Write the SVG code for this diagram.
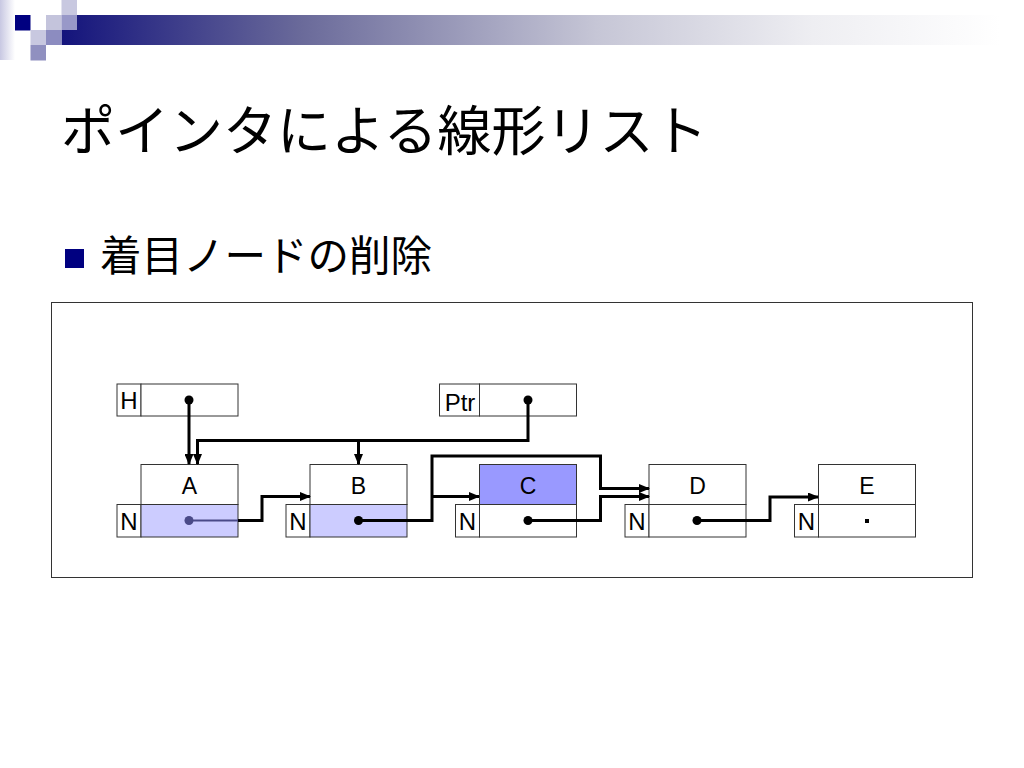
<svg xmlns="http://www.w3.org/2000/svg" width="1024" height="768" viewBox="0 0 1024 768">
<defs>
<linearGradient id="bar" gradientUnits="userSpaceOnUse" x1="62" y1="0" x2="1000" y2="0">
<stop offset="0" stop-color="#14147c"/>
<stop offset="0.255" stop-color="#6a6a9a"/>
<stop offset="0.57" stop-color="#c6c6d6"/>
<stop offset="0.8" stop-color="#eeeef2"/>
<stop offset="1" stop-color="#ffffff"/>
</linearGradient>
<linearGradient id="strip" x1="0" y1="0" x2="1" y2="0">
<stop offset="0" stop-color="#c8c8e2"/>
<stop offset="1" stop-color="#ffffff"/>
</linearGradient>
<marker id="arr" markerUnits="userSpaceOnUse" markerWidth="11" markerHeight="9" refX="10" refY="4.5" orient="auto">
<path d="M0,0 L11,4.5 L0,9 z" fill="#000"/>
</marker>
<style>
.cell{fill:#fff;stroke:#333;stroke-width:1}
.sel{fill:#ccccff;stroke:#333;stroke-width:1}
.cur{fill:#9999ff;stroke:#333;stroke-width:1}
.lbl{font-family:"Liberation Sans",Arial,sans-serif;font-size:24px;fill:#000;text-anchor:middle}
.val{font-family:"Liberation Sans",Arial,sans-serif;font-size:23px;fill:#000;text-anchor:middle}
.ln{fill:none;stroke:#000;stroke-width:3}
.jp{font-family:"Noto Sans CJK JP","Noto Sans CJK SC",sans-serif;fill:#000}
</style>
</defs>
<rect width="1024" height="768" fill="#fff"/>
<g id="decoration">
<rect x="0" y="0" width="15" height="60" fill="url(#strip)"/>
<rect x="77" y="15" width="947" height="15" fill="url(#bar)"/>
<rect x="61.5" y="30" width="962.5" height="15" fill="url(#bar)"/>
<rect x="15" y="15" width="15.5" height="15.5" fill="#000080"/>
<rect x="61.5" y="0" width="15.5" height="15" fill="#c8c8e0"/>
<rect x="46" y="15" width="15.5" height="15" fill="#c4c4dc"/>
<rect x="61.5" y="15" width="15.5" height="15" fill="#9898c8"/>
<rect x="30.5" y="30" width="15.5" height="15" fill="#c8c8e0"/>
<rect x="46" y="30" width="15.5" height="15" fill="#8c8cc0"/>
<rect x="30.5" y="45" width="15.5" height="15.5" fill="#9090c0"/>
</g>
<text class="jp" x="61" y="151" font-size="54">ポインタによる線形リスト</text>
<rect x="65" y="249" width="19" height="19" fill="#000080"/>
<text class="jp" x="100" y="271" font-size="41.5">着目ノードの削除</text>
<rect x="51.5" y="302.5" width="921" height="275" fill="none" stroke="#333" stroke-width="1"/>
<g id="H">
<rect class="cell" x="117" y="384" width="24" height="32"/>
<rect class="cell" x="141" y="384" width="97" height="32"/>
<text class="lbl" x="129" y="409">H</text>
</g>
<g id="Ptr">
<rect class="cell" x="439.5" y="384" width="40" height="32"/>
<rect class="cell" x="479.5" y="384" width="97" height="32"/>
<text class="lbl" x="460" y="411">Ptr</text>
</g>
<g id="nodeA">
<rect class="cell" x="141" y="464.5" width="97" height="40"/>
<rect class="cell" x="117" y="504.5" width="24" height="32.5"/>
<rect class="sel" x="141" y="504.5" width="97" height="32.5"/>
<text class="val" x="189.5" y="494">A</text>
<text class="lbl" x="129" y="530">N</text>
</g>
<g id="nodeB">
<rect class="cell" x="310" y="464.5" width="97" height="40"/>
<rect class="cell" x="286" y="504.5" width="24" height="32.5"/>
<rect class="sel" x="310" y="504.5" width="97" height="32.5"/>
<text class="val" x="358.5" y="494">B</text>
<text class="lbl" x="298" y="530">N</text>
</g>
<g id="nodeC">
<rect class="cur" x="479.5" y="464.5" width="97" height="40"/>
<rect class="cell" x="455.5" y="504.5" width="24" height="32.5"/>
<rect class="cell" x="479.5" y="504.5" width="97" height="32.5"/>
<text class="val" x="528" y="494">C</text>
<text class="lbl" x="467.5" y="530">N</text>
</g>
<g id="nodeD">
<rect class="cell" x="649" y="464.5" width="97" height="40"/>
<rect class="cell" x="625" y="504.5" width="24" height="32.5"/>
<rect class="cell" x="649" y="504.5" width="97" height="32.5"/>
<text class="val" x="697.5" y="494">D</text>
<text class="lbl" x="637" y="530">N</text>
</g>
<g id="nodeE">
<rect class="cell" x="818.5" y="464.5" width="97" height="40"/>
<rect class="cell" x="794.5" y="504.5" width="24" height="32.5"/>
<rect class="cell" x="818.5" y="504.5" width="97" height="32.5"/>
<text class="val" x="867" y="494">E</text>
<text class="lbl" x="806.5" y="530">N</text>
<rect x="865" y="519" width="4" height="4" fill="#000"/>
</g>
<g id="connectors">
<path class="ln" d="M189,400 V464" marker-end="url(#arr)"/>
<path class="ln" d="M528,400 V440.5 H197.5 V464" marker-end="url(#arr)"/>
<path class="ln" d="M358.5,440.5 V464" marker-end="url(#arr)"/>
<path d="M189,520.5 H238" fill="none" stroke="#4a4a88" stroke-width="2"/>
<path class="ln" d="M238,520.5 H262 V496.5 H310" marker-end="url(#arr)"/>
<path class="ln" d="M358.5,520.5 H432 V456 H600.5 V488.5 H649" marker-end="url(#arr)"/>
<path class="ln" d="M432,496.5 H479" marker-end="url(#arr)"/>
<path class="ln" d="M528,520.5 H600.5 V496.5 H649" marker-end="url(#arr)"/>
<path class="ln" d="M697,520.5 H770 V497 H818" marker-end="url(#arr)"/>
<circle cx="189" cy="400" r="4.5" fill="#000"/>
<circle cx="528" cy="400" r="4.5" fill="#000"/>
<circle cx="189" cy="520.5" r="4.5" fill="#4a4a88"/>
<circle cx="358.5" cy="520.5" r="4.5" fill="#000"/>
<circle cx="528" cy="520.5" r="4.5" fill="#000"/>
<circle cx="697" cy="520.5" r="4.5" fill="#000"/>
</g>
</svg>
